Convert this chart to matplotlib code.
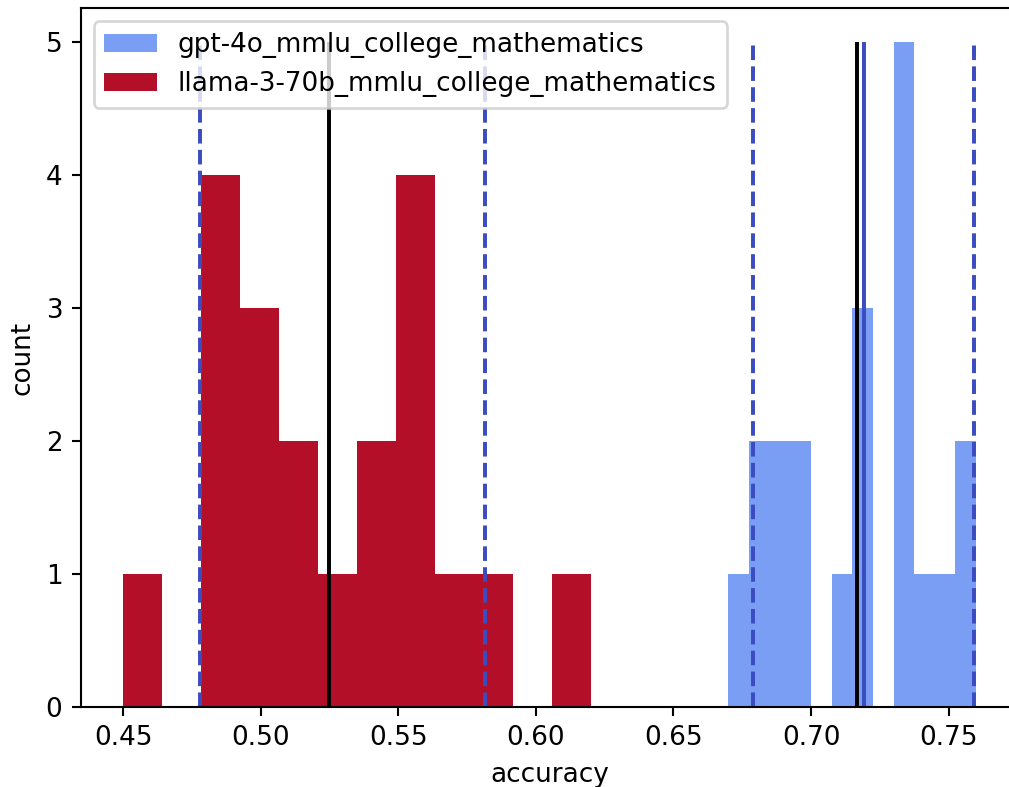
import numpy as np
import matplotlib
matplotlib.use("Agg")
import matplotlib.pyplot as plt

# histogram counts (12 bins each)
gpt_label = "gpt-4o_mmlu_college_mathematics"
gpt_range = (0.67, 0.76)
gpt_counts = [1, 2, 2, 2, 0, 1, 3, 0, 5, 1, 1, 2]

llama_label = "llama-3-70b_mmlu_college_mathematics"
llama_range = (0.45, 0.62)
llama_counts = [1, 0, 4, 3, 2, 1, 2, 4, 1, 1, 0, 1]

# interval (dashed), mean (black) and extra reference (blue solid)
gpt_interval = [0.6788, 0.7592]
gpt_mean = 0.7166
gpt_ref = 0.7194

llama_interval = [0.4779, 0.5815]
llama_mean = 0.5248

BLUE = "#7b9ef5"
RED = "#b40f28"
LINE_BLUE = "#3b4cc0"

DPI = 189
fig = plt.figure(figsize=(1009 / DPI, 787 / DPI), dpi=DPI)
ax = fig.add_axes([80.7 / 1009, 80 / 787, 938 / 1009, 698.7 / 787])


def draw_hist(counts, rng, color, label):
    edges = np.linspace(rng[0], rng[1], len(counts) + 1)
    ax.hist(edges[:-1], bins=edges, weights=counts, color=color, label=label)


draw_hist(gpt_counts, gpt_range, BLUE, gpt_label)
draw_hist(llama_counts, llama_range, RED, llama_label)

top = max(max(gpt_counts), max(llama_counts))

for interval, mean in [(gpt_interval, gpt_mean), (llama_interval, llama_mean)]:
    ax.vlines(interval, 0, top, colors=LINE_BLUE, linestyles="--", linewidth=1.5)
    ax.vlines(mean, 0, top, colors="black", linewidth=1.5)

ax.vlines(gpt_ref, 0, top, colors=LINE_BLUE, linewidth=1.5)

ax.set_xlabel("accuracy")
ax.set_ylabel("count")
ax.legend(loc="upper left")

fig.savefig("out.png", dpi=DPI)
